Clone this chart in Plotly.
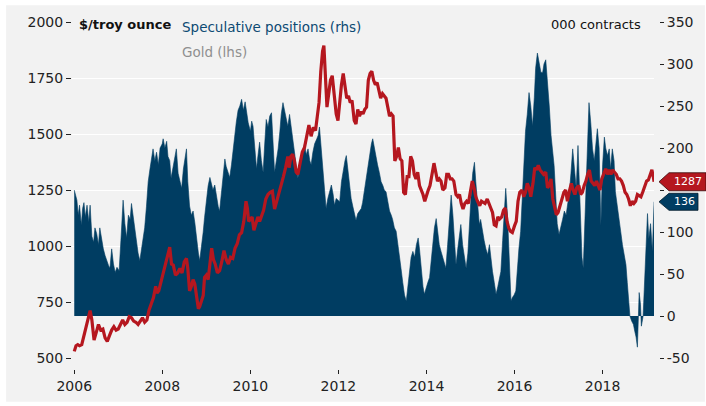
import pandas as pd
import plotly.graph_objects as go

# ---------------- data ----------------
pos_time = [
    2006.00, 2006.03, 2006.06, 2006.09, 2006.12, 2006.16, 2006.19, 2006.22, 2006.25, 2006.29,
    2006.33, 2006.36, 2006.40, 2006.44, 2006.47, 2006.51, 2006.55, 2006.58, 2006.62, 2006.66,
    2006.70, 2006.74, 2006.78, 2006.81, 2006.85, 2006.89, 2006.93, 2006.97, 2007.02, 2007.06,
    2007.09, 2007.11, 2007.15, 2007.19, 2007.23, 2007.27, 2007.30, 2007.34, 2007.38, 2007.41,
    2007.45, 2007.49, 2007.53, 2007.57, 2007.60, 2007.64, 2007.68, 2007.72, 2007.76, 2007.79,
    2007.83, 2007.87, 2007.91, 2007.95, 2008.00, 2008.02, 2008.06, 2008.10, 2008.13, 2008.17,
    2008.20, 2008.24, 2008.28, 2008.32, 2008.36, 2008.40, 2008.44, 2008.48, 2008.52, 2008.55,
    2008.58, 2008.62, 2008.66, 2008.70, 2008.74, 2008.78, 2008.82, 2008.85, 2008.89, 2008.93,
    2008.96, 2009.00, 2009.04, 2009.08, 2009.12, 2009.15, 2009.19, 2009.23, 2009.27, 2009.30,
    2009.34, 2009.38, 2009.42, 2009.45, 2009.49, 2009.53, 2009.57, 2009.61, 2009.65, 2009.68,
    2009.72, 2009.76, 2009.80, 2009.84, 2009.88, 2009.91, 2009.95, 2010.00, 2010.03, 2010.06,
    2010.10, 2010.14, 2010.17, 2010.21, 2010.25, 2010.29, 2010.32, 2010.36, 2010.40, 2010.44,
    2010.48, 2010.51, 2010.55, 2010.59, 2010.63, 2010.67, 2010.70, 2010.74, 2010.78, 2010.82,
    2010.85, 2010.89, 2010.93, 2010.97, 2011.01, 2011.04, 2011.08, 2011.12, 2011.15, 2011.19,
    2011.23, 2011.27, 2011.31, 2011.35, 2011.38, 2011.42, 2011.46, 2011.51, 2011.54, 2011.57,
    2011.60, 2011.64, 2011.68, 2011.72, 2011.76, 2011.80, 2011.84, 2011.88, 2011.91, 2011.95,
    2012.00, 2012.03, 2012.07, 2012.11, 2012.15, 2012.18, 2012.22, 2012.26, 2012.29, 2012.33,
    2012.37, 2012.40, 2012.44, 2012.48, 2012.52, 2012.55, 2012.59, 2012.63, 2012.67, 2012.71,
    2012.75, 2012.78, 2012.82, 2012.86, 2012.89, 2012.93, 2012.97, 2013.01, 2013.04, 2013.08,
    2013.12, 2013.16, 2013.20, 2013.23, 2013.27, 2013.31, 2013.35, 2013.38, 2013.42, 2013.46,
    2013.50, 2013.54, 2013.58, 2013.61, 2013.65, 2013.69, 2013.73, 2013.77, 2013.81, 2013.84,
    2013.88, 2013.92, 2013.95, 2013.99, 2014.03, 2014.07, 2014.11, 2014.14, 2014.18, 2014.22,
    2014.26, 2014.29, 2014.33, 2014.37, 2014.40, 2014.44, 2014.48, 2014.52, 2014.56, 2014.60,
    2014.63, 2014.67, 2014.71, 2014.75, 2014.78, 2014.82, 2014.86, 2014.90, 2014.94, 2014.97,
    2015.01, 2015.05, 2015.09, 2015.12, 2015.16, 2015.20, 2015.23, 2015.27, 2015.31, 2015.35,
    2015.39, 2015.43, 2015.46, 2015.50, 2015.54, 2015.58, 2015.62, 2015.65, 2015.69, 2015.73,
    2015.77, 2015.80, 2015.84, 2015.88, 2015.92, 2015.95, 2015.99, 2016.03, 2016.06, 2016.10,
    2016.14, 2016.18, 2016.21, 2016.25, 2016.29, 2016.33, 2016.37, 2016.41, 2016.45, 2016.48,
    2016.52, 2016.56, 2016.60, 2016.64, 2016.67, 2016.71, 2016.75, 2016.79, 2016.83, 2016.86,
    2016.90, 2016.94, 2016.97, 2017.01, 2017.05, 2017.09, 2017.13, 2017.17, 2017.21, 2017.24,
    2017.28, 2017.32, 2017.36, 2017.40, 2017.44, 2017.47, 2017.50, 2017.53, 2017.56, 2017.59,
    2017.62, 2017.66, 2017.69, 2017.73, 2017.77, 2017.81, 2017.85, 2017.88, 2017.92, 2017.96,
    2018.00, 2018.04, 2018.07, 2018.11, 2018.15, 2018.18, 2018.22, 2018.26, 2018.29, 2018.33,
    2018.37, 2018.41, 2018.45, 2018.49, 2018.53, 2018.56, 2018.60, 2018.62, 2018.66, 2018.70,
    2018.73, 2018.76, 2018.79, 2018.81, 2018.83, 2018.86, 2018.88, 2018.92, 2018.96, 2019.00,
    2019.02, 2019.05, 2019.09, 2019.13, 2019.15, 2019.17,
]
pos_values = [
    150, 145, 138, 120, 132, 108, 128, 135, 118, 132,
    112, 132, 95, 88, 105, 98, 85, 105, 92, 80,
    72, 65, 60, 57, 80, 62, 52, 58, 54, 90,
    125, 138, 110, 93, 120, 115, 134, 118, 100, 93,
    75, 66, 80, 95, 105, 130, 160, 175, 190, 199,
    185, 195, 180, 200, 205, 211, 200, 208, 190, 185,
    164, 175, 190, 199, 170, 160, 152, 175, 190, 199,
    160, 131, 120, 125, 111, 90, 75, 66, 80, 100,
    117, 140, 155, 165, 158, 150, 156, 140, 130, 125,
    145, 170, 187, 178, 170, 165, 180, 200, 215, 231,
    245, 250, 258, 245, 255, 242, 230, 220, 232, 226,
    200, 175, 190, 207, 185, 171, 200, 234, 225, 238,
    242, 215, 171, 185, 199, 220, 240, 254, 245, 235,
    226, 240, 225, 211, 195, 180, 164, 178, 188, 195,
    205, 192, 199, 185, 180, 195, 205, 211, 215, 225,
    205, 170, 145, 128, 140, 150, 156, 145, 132, 140,
    138, 136, 160, 175, 185, 191, 170, 150, 140, 130,
    120, 114, 122, 125, 128, 135, 150, 160, 180, 195,
    205, 211, 200, 185, 180, 171, 160, 155, 150, 148,
    135, 125, 120, 115, 105, 101, 85, 70, 57, 40,
    25, 18, 35, 53, 70, 77, 70, 85, 93, 80,
    55, 35, 26, 35, 40, 46, 70, 90, 105, 116,
    95, 85, 77, 70, 62, 57, 85, 120, 144, 120,
    90, 61, 80, 95, 109, 85, 70, 57, 75, 112,
    140, 170, 183, 160, 130, 109, 115, 101, 90, 80,
    73, 85, 70, 53, 40, 26, 35, 45, 53, 90,
    130, 152, 120, 60, 18, 22, 25, 30, 55, 80,
    101, 140, 171, 220, 240, 266, 250, 226, 260, 295,
    313, 300, 290, 290, 300, 305, 280, 250, 215, 200,
    179, 140, 110, 97, 105, 115, 125, 120, 135, 144,
    170, 199, 175, 152, 203, 150, 93, 70, 57, 100,
    152, 210, 254, 230, 199, 185, 210, 223, 200, 108,
    180, 213, 200, 191, 199, 175, 199, 185, 148, 130,
    113, 101, 85, 75, 61, 40, 15, 0, -6, -10,
    -18, -25, -37, -10, 28, 14, -12, 0, 49, 100,
    122, 92, 110, 77, 120, 136,
]

gold_time = [
    2006.00, 2006.04, 2006.08, 2006.12, 2006.17, 2006.21, 2006.25, 2006.30, 2006.36, 2006.40,
    2006.45, 2006.50, 2006.55, 2006.60, 2006.65, 2006.70, 2006.75, 2006.80, 2006.85, 2006.90,
    2006.95, 2007.00, 2007.05, 2007.10, 2007.15, 2007.20, 2007.25, 2007.30, 2007.35, 2007.40,
    2007.45, 2007.50, 2007.55, 2007.60, 2007.65, 2007.70, 2007.75, 2007.80, 2007.85, 2007.88,
    2007.92, 2007.96, 2008.00, 2008.04, 2008.08, 2008.12, 2008.17, 2008.21, 2008.25, 2008.30,
    2008.35, 2008.40, 2008.45, 2008.50, 2008.55, 2008.58, 2008.62, 2008.66, 2008.70, 2008.74,
    2008.78, 2008.82, 2008.85, 2008.89, 2008.93, 2008.96, 2009.00, 2009.04, 2009.08, 2009.12,
    2009.16, 2009.20, 2009.25, 2009.30, 2009.35, 2009.40, 2009.45, 2009.50, 2009.55, 2009.60,
    2009.65, 2009.70, 2009.75, 2009.80, 2009.85, 2009.90, 2009.93, 2009.96, 2010.00, 2010.04,
    2010.08, 2010.12, 2010.17, 2010.21, 2010.25, 2010.30, 2010.35, 2010.40, 2010.45, 2010.50,
    2010.55, 2010.60, 2010.65, 2010.70, 2010.75, 2010.80, 2010.85, 2010.88, 2010.92, 2010.96,
    2011.00, 2011.04, 2011.08, 2011.13, 2011.18, 2011.23, 2011.28, 2011.33, 2011.38, 2011.43,
    2011.48, 2011.52, 2011.56, 2011.60, 2011.64, 2011.67, 2011.70, 2011.74, 2011.78, 2011.82,
    2011.86, 2011.90, 2011.95, 2011.99, 2012.03, 2012.07, 2012.11, 2012.15, 2012.19, 2012.23,
    2012.27, 2012.31, 2012.36, 2012.40, 2012.44, 2012.48, 2012.52, 2012.56, 2012.60, 2012.64,
    2012.68, 2012.72, 2012.76, 2012.80, 2012.84, 2012.88, 2012.92, 2012.96, 2013.00, 2013.04,
    2013.08, 2013.12, 2013.16, 2013.20, 2013.24, 2013.28, 2013.32, 2013.36, 2013.40, 2013.44,
    2013.48, 2013.52, 2013.56, 2013.60, 2013.64, 2013.68, 2013.72, 2013.76, 2013.80, 2013.84,
    2013.88, 2013.92, 2013.96, 2014.00, 2014.04, 2014.08, 2014.12, 2014.17, 2014.21, 2014.25,
    2014.29, 2014.33, 2014.37, 2014.42, 2014.46, 2014.50, 2014.54, 2014.58, 2014.62, 2014.67,
    2014.71, 2014.75, 2014.79, 2014.83, 2014.87, 2014.91, 2014.95, 2014.99, 2015.04, 2015.08,
    2015.12, 2015.16, 2015.21, 2015.25, 2015.29, 2015.33, 2015.38, 2015.42, 2015.46, 2015.50,
    2015.54, 2015.58, 2015.62, 2015.66, 2015.71, 2015.75, 2015.79, 2015.83, 2015.87, 2015.91,
    2015.95, 2016.00, 2016.04, 2016.08, 2016.12, 2016.17, 2016.21, 2016.25, 2016.29, 2016.33,
    2016.37, 2016.42, 2016.46, 2016.50, 2016.54, 2016.58, 2016.62, 2016.66, 2016.71, 2016.75,
    2016.79, 2016.83, 2016.87, 2016.91, 2016.95, 2016.99, 2017.04, 2017.08, 2017.12, 2017.16,
    2017.20, 2017.25, 2017.29, 2017.33, 2017.37, 2017.41, 2017.46, 2017.50, 2017.54, 2017.58,
    2017.62, 2017.66, 2017.70, 2017.74, 2017.78, 2017.82, 2017.86, 2017.90, 2017.94, 2017.98,
    2018.03, 2018.07, 2018.11, 2018.15, 2018.19, 2018.23, 2018.27, 2018.31, 2018.35, 2018.39,
    2018.43, 2018.47, 2018.51, 2018.55, 2018.59, 2018.63, 2018.67, 2018.71, 2018.75, 2018.79,
    2018.83, 2018.87, 2018.91, 2018.95, 2019.00, 2019.04, 2019.08, 2019.12, 2019.15, 2019.17,
]
gold_values = [
    530, 555, 560, 555, 560, 590, 630, 660, 712, 670,
    580, 615, 650, 625, 630, 590, 575, 600, 625, 640,
    625, 630, 650, 670, 650, 660, 685, 680, 665, 660,
    650, 665, 680, 660, 670, 715, 740, 770, 820, 790,
    800, 830, 860, 900, 920, 950, 995, 920, 915, 870,
    880, 900, 880, 930, 945, 900, 800, 820, 850, 830,
    770, 720, 730, 760, 780, 860, 870, 850, 910, 990,
    940, 920, 880, 890, 930, 980, 940, 920, 950, 945,
    990, 1010, 1050, 1060, 1110, 1200, 1170, 1110, 1120, 1130,
    1070, 1095, 1130, 1110, 1130, 1160, 1210, 1230, 1240, 1245,
    1165, 1200, 1230, 1270, 1310, 1350, 1400, 1350, 1400, 1410,
    1380, 1330, 1320, 1370, 1420, 1440, 1500, 1540, 1490, 1530,
    1515, 1590, 1640, 1780, 1870, 1895, 1780, 1620, 1680, 1740,
    1760, 1690, 1590, 1560, 1650, 1720, 1770, 1720, 1660, 1670,
    1640, 1650, 1560, 1545, 1610, 1580, 1600, 1590, 1610, 1620,
    1740, 1770, 1780, 1740, 1720, 1730, 1700, 1660, 1680, 1670,
    1660, 1620, 1580, 1590, 1580, 1380, 1400, 1440, 1390, 1380,
    1240, 1230, 1310, 1310, 1400, 1380, 1320, 1300, 1330, 1270,
    1250, 1230, 1200, 1230, 1250, 1270, 1320, 1370, 1330, 1290,
    1300, 1290, 1250, 1260, 1320, 1320, 1300, 1300, 1290, 1230,
    1220, 1230, 1190, 1165, 1190, 1200, 1190, 1230, 1290, 1260,
    1220, 1200, 1180, 1200, 1195, 1190, 1210, 1185, 1170, 1150,
    1095, 1090, 1130, 1120, 1130, 1160, 1170, 1110, 1080, 1065,
    1060, 1090, 1110, 1200, 1240, 1250, 1220, 1240, 1280, 1260,
    1220, 1280, 1350, 1340, 1360, 1340, 1330, 1320, 1330, 1260,
    1270, 1300, 1210, 1180, 1140, 1150, 1190, 1210, 1240, 1250,
    1200, 1250, 1280, 1250, 1230, 1260, 1270, 1230, 1240, 1270,
    1290, 1320, 1340, 1290, 1280, 1270, 1290, 1270, 1250, 1300,
    1330, 1345, 1320, 1340, 1320, 1340, 1330, 1320, 1300, 1300,
    1290, 1270, 1240, 1230, 1210, 1180, 1200, 1190, 1200, 1230,
    1225, 1220, 1240, 1260, 1290, 1295, 1320, 1340, 1310, 1287,
]

gold_ticks = [500, 750, 1000, 1250, 1500, 1750, 2000]
pos_ticks = [-50, 0, 50, 100, 150, 200, 250, 300, 350]
# the 150 label sits behind the end-value tags in the reference
pos_ticktext = ["-50", "0", "50", "100", "", "200", "250", "300", "350"]
year_ticks = [2006, 2008, 2010, 2012, 2014, 2016, 2018]


def to_date(t):
    y = int(t)
    return pd.Timestamp(year=y, month=1, day=1) + pd.to_timedelta((t - y) * 365.25, unit="D")


pos_dates = [to_date(t) for t in pos_time]
gold_dates = [to_date(t) for t in gold_time]

BLUE = "#003d62"
RED = "#b5171f"
BG = "#f2f2f2"
FONT = "DejaVu Sans"

# layout geometry (pixels)
ML, MR, MT, MB = 72, 46, 22, 34
PW = 706 - ML - MR
PH = 406 - MT - MB
GAP_B = 11          # gap between plot bottom and x axis ticks
GAP_R = 5           # gap between plot right edge and right axis ticks

fig = go.Figure()
fig.add_trace(go.Scatter(
    x=pos_dates, y=pos_values, mode="lines", fill="tozeroy",
    line=dict(color=BLUE, width=0.6), fillcolor=BLUE, yaxis="y",
    showlegend=False, hoverinfo="skip",
))
fig.add_trace(go.Scatter(
    x=gold_dates, y=gold_values, mode="lines",
    line=dict(color=RED, width=3.2), yaxis="y2",
    showlegend=False, hoverinfo="skip",
))

tickfont = dict(family=FONT, size=14, color="#222222")


def px_x(p):
    return (p - ML) / PW


def px_y(p):
    return (406 - MB - p) / PH


fig.update_layout(
    width=706, height=406,
    margin=dict(l=ML, r=MR, t=MT, b=MB),
    paper_bgcolor="white",
    plot_bgcolor=BG,
    xaxis=dict(
        domain=[0, 1 - GAP_R / PW],
        range=[to_date(2005.948), to_date(2019.168)],
        type="date",
        tickvals=[pd.Timestamp(year=y, month=1, day=1) for y in year_ticks],
        ticktext=[str(y) for y in year_ticks],
        ticks="outside", ticklen=4, tickwidth=1, tickcolor="#222222",
        showgrid=False, zeroline=False, showline=False,
        anchor="free", position=0,
        tickfont=tickfont,
    ),
    yaxis=dict(
        domain=[GAP_B / PH, 1],
        range=[-50, 350],
        tickvals=pos_ticks,
        ticktext=pos_ticktext,
        side="right", anchor="free", position=1,
        ticks="outside", ticklen=4, tickwidth=1, tickcolor="#222222",
        showgrid=False, zeroline=False, showline=False,
        tickfont=tickfont,
    ),
    yaxis2=dict(
        range=[500, 2000],
        tickvals=gold_ticks,
        overlaying="y", side="left", anchor="x",
        ticks="outside", ticklen=5, tickwidth=1, tickcolor="#222222",
        showgrid=True, gridcolor="white", gridwidth=1.2,
        zeroline=False, showline=False,
        tickfont=tickfont,
    ),
    shapes=[
        dict(type="rect", xref="paper", yref="paper",
             x0=px_x(6), x1=px_x(706), y0=px_y(405), y1=px_y(5),
             fillcolor=BG, line=dict(width=0), layer="below"),
        dict(type="path", xref="paper", yref="y2",
             xsizemode="pixel", ysizemode="pixel",
             xanchor=1, yanchor=gold_values[-1],
             path="M 0,0 L 10,9 L 47,9 L 47,-9 L 10,-9 Z",
             fillcolor=RED, line=dict(color="#3a0a0a", width=0.8)),
        dict(type="path", xref="paper", yref="y",
             xsizemode="pixel", ysizemode="pixel",
             xanchor=1, yanchor=pos_values[-1],
             path="M 0,0 L 10,8.5 L 39,8.5 L 39,-8.5 L 10,-8.5 Z",
             fillcolor=BLUE, line=dict(color="#001a2a", width=0.8)),
    ],
    annotations=[
        dict(text="$/troy ounce", xref="paper", yref="paper", x=px_x(77),
             y=px_y(25), xanchor="left", yanchor="middle", showarrow=False,
             font=dict(family=FONT, size=13, color="#111111", weight="bold")),
        dict(text="000 contracts", xref="paper", yref="paper", x=px_x(644),
             y=px_y(25), xanchor="right", yanchor="middle", showarrow=False,
             font=dict(family=FONT, size=13, color="#111111")),
        dict(text="Speculative positions (rhs)", xref="paper", yref="paper",
             x=px_x(180), y=px_y(27), xanchor="left", yanchor="middle",
             showarrow=False, font=dict(family=FONT, size=13.5, color="#0d4a73")),
        dict(text="Gold (lhs)", xref="paper", yref="paper",
             x=px_x(180), y=px_y(52), xanchor="left", yanchor="middle",
             showarrow=False, font=dict(family=FONT, size=13.5, color="#8f8f8f")),
        dict(text=str(gold_values[-1]), xref="paper", yref="y2", x=1, y=gold_values[-1],
             xanchor="center", yanchor="middle", xshift=29, showarrow=False,
             borderpad=0, font=dict(family=FONT, size=11, color="white")),
        dict(text=str(pos_values[-1]), xref="paper", yref="y", x=1, y=pos_values[-1],
             xanchor="center", yanchor="middle", xshift=25, showarrow=False,
             borderpad=0, font=dict(family=FONT, size=11, color="white")),
    ],
)

fig.write_html(
    "out.html",
    config={"displayModeBar": False},
    post_script="document.body.style.margin='0';document.body.style.overflow='hidden';",
)
